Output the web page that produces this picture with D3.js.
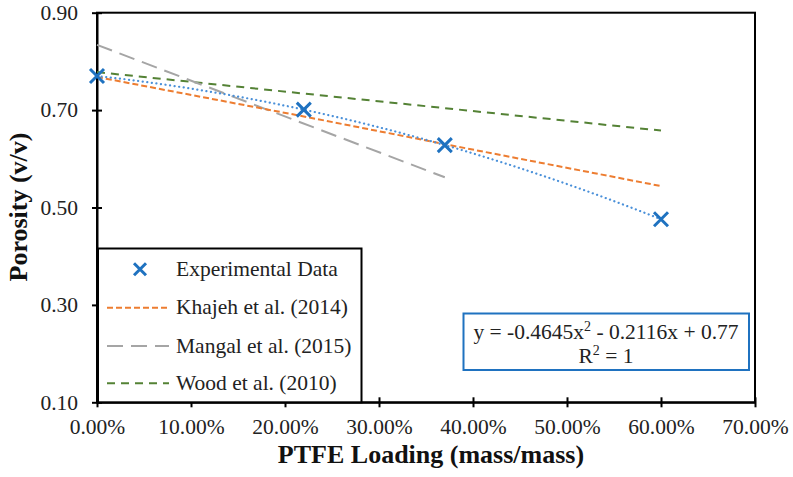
<!DOCTYPE html>
<html>
<head>
<meta charset="utf-8">
<script src="https://cdn.jsdelivr.net/npm/d3@7"></script>
<style>
  html, body { margin: 0; padding: 0; background: #fff; }
  svg { display: block; }
  svg text { font-family: "Liberation Serif", "Times New Roman", serif; }
</style>
</head>
<body>
<svg id="chart" width="793" height="477"></svg>
<script>
// PTFE loading (mass fraction) and measured porosity
const loading = [0, 0.22, 0.37, 0.60];
const porosity = [0.77, 0.701, 0.628, 0.476];

// Model predictions from literature, at their sampled loadings
const khajehX = [0, 0.22, 0.37, 0.60];
const khajehY = [0.768, 0.687, 0.630, 0.544];
const mangalX = [0, 0.37];
const mangalY = [0.834, 0.562];
const woodX = [0, 0.60];
const woodY = [0.778, 0.658];

// Polynomial trendline coefficients (a x^2 + b x + c), as printed in the label
const trendCoef = [-0.4645, -0.2116, 0.77];
const trendR2 = 1;

const xTicks = [0, 0.1, 0.2, 0.3, 0.4, 0.5, 0.6, 0.7];
const yTicks = [0.10, 0.30, 0.50, 0.70, 0.90];

const legendNames = ["Experimental Data", "Khajeh et al. (2014)", "Mangal et al. (2015)", "Wood et al. (2010)"];

const colors = {
  exp: "#1F72C0",
  trend: "#4A90D9",
  khajeh: "#ED7D31",
  mangal: "#A5A5A5",
  wood: "#548235"
};
const SERIF = "'Liberation Serif', 'Times New Roman', serif";

const svg = d3.select("#chart");
const x = d3.scaleLinear().domain([0, 0.7]).range([97, 755]);
const y = d3.scaleLinear().domain([0.1, 0.9]).range([402.3, 12.7]);

// frame
svg.append("rect")
  .attr("x", x(0)).attr("y", y(0.9))
  .attr("width", x(0.7) - x(0)).attr("height", y(0.1) - y(0.9))
  .attr("fill", "none").attr("stroke", "#000").attr("stroke-width", 2);

// axes with ticks crossing the axis line
const xAxis = svg.append("g").attr("transform", `translate(0,${y(0.1)})`)
  .call(d3.axisBottom(x).tickValues(xTicks).tickSize(5).tickSizeOuter(0)
    .tickFormat(d => (d * 100).toFixed(2) + "%"));
xAxis.attr("font-family", SERIF).attr("font-size", 21.5);
xAxis.select(".domain").attr("stroke-width", 2);
xAxis.selectAll(".tick line").attr("y1", -5).attr("stroke-width", 2);
xAxis.selectAll(".tick text").attr("fill", "#222").attr("y", 16);

const yAxis = svg.append("g").attr("transform", `translate(${x(0)},0)`)
  .call(d3.axisLeft(y).tickValues(yTicks).tickSize(5).tickSizeOuter(0)
    .tickFormat(d3.format(".2f")));
yAxis.attr("font-family", SERIF).attr("font-size", 21.5);
yAxis.select(".domain").attr("stroke-width", 2);
yAxis.selectAll(".tick line").attr("x1", 5).attr("stroke-width", 2);
yAxis.selectAll(".tick text").attr("fill", "#222").attr("x", -19);

// axis titles
svg.append("text")
  .attr("x", 431).attr("y", 463)
  .attr("text-anchor", "middle").attr("font-weight", "bold").attr("font-size", 26)
  .attr("font-family", SERIF).attr("fill", "#111")
  .text("PTFE Loading (mass/mass)");
svg.append("text")
  .attr("transform", "translate(27,207) rotate(-90)")
  .attr("text-anchor", "middle").attr("font-weight", "bold").attr("font-size", 26)
  .attr("font-family", SERIF).attr("fill", "#111")
  .text("Porosity (v/v)");

const line = d3.line().x(d => x(d[0])).y(d => y(d[1]));
const zip = (a, b) => a.map((v, i) => [v, b[i]]);

// literature models
svg.append("path").datum(zip(woodX, woodY)).attr("d", line)
  .attr("fill", "none").attr("stroke", colors.wood).attr("stroke-width", 2)
  .attr("stroke-dasharray", "8,6");
svg.append("path").datum(zip(mangalX, mangalY)).attr("d", line)
  .attr("fill", "none").attr("stroke", colors.mangal).attr("stroke-width", 2)
  .attr("stroke-dasharray", "16,8");
svg.append("path").datum(zip(khajehX, khajehY)).attr("d", line)
  .attr("fill", "none").attr("stroke", colors.khajeh).attr("stroke-width", 2)
  .attr("stroke-dasharray", "6,3");

// polynomial trendline across the measured range
const trendPts = d3.range(0, 0.6001, 0.01).map(t => [t, trendCoef[0] * t * t + trendCoef[1] * t + trendCoef[2]]);
svg.append("path").datum(trendPts).attr("d", line)
  .attr("fill", "none").attr("stroke", colors.trend).attr("stroke-width", 2.2)
  .attr("stroke-dasharray", "0.1,4.5").attr("stroke-linecap", "round");

// experimental markers
const cross = (g, cx, cy, r) => {
  g.append("path")
    .attr("d", `M${cx - r},${cy - r}L${cx + r},${cy + r}M${cx - r},${cy + r}L${cx + r},${cy - r}`)
    .attr("stroke", colors.exp).attr("stroke-width", 3).attr("fill", "none");
};
const marks = svg.append("g");
loading.forEach((v, i) => cross(marks, x(v), y(porosity[i]), 7));

// legend
const lg = svg.append("g");
lg.append("rect").attr("x", 98).attr("y", 248.5).attr("width", 263.5).attr("height", y(0.1) - 248.5)
  .attr("fill", "#fff").attr("stroke", "#000").attr("stroke-width", 2);
const rowY = [269.3, 307.7, 346, 383.3];
const styles = [null,
  { c: colors.khajeh, d: "6,3" },
  { c: colors.mangal, d: "16,8" },
  { c: colors.wood, d: "8,6" }];
legendNames.forEach((name, i) => {
  if (i === 0) {
    cross(lg, 140, rowY[i], 6);
  } else {
    lg.append("line").attr("x1", 107).attr("x2", 169).attr("y1", rowY[i]).attr("y2", rowY[i])
      .attr("stroke", styles[i].c).attr("stroke-width", 2).attr("stroke-dasharray", styles[i].d);
  }
  lg.append("text").attr("x", 176).attr("y", rowY[i] + 6.5).attr("font-size", 21.5)
    .attr("font-family", SERIF).attr("fill", "#222").text(name);
});

// trendline equation label
const eq = svg.append("g").attr("font-family", SERIF);
eq.append("rect").attr("x", 463.5).attr("y", 313.5).attr("width", 285.5).attr("height", 56.5)
  .attr("fill", "#fff").attr("stroke", "#1F72C0").attr("stroke-width", 2);
const t1 = eq.append("text").attr("x", 606).attr("y", 339).attr("text-anchor", "middle")
  .attr("font-size", 21.5).attr("fill", "#222");
t1.append("tspan").text(`y = ${trendCoef[0]}x`);
t1.append("tspan").attr("font-size", 14).attr("dy", -8).text("2");
t1.append("tspan").attr("dy", 8).text(` - ${Math.abs(trendCoef[1])}x + ${trendCoef[2]}`);
const t2 = eq.append("text").attr("x", 606).attr("y", 363).attr("text-anchor", "middle")
  .attr("font-size", 21.5).attr("fill", "#222");
t2.append("tspan").text("R");
t2.append("tspan").attr("font-size", 14).attr("dy", -8).text("2");
t2.append("tspan").attr("dy", 8).text(` = ${trendR2}`);
</script>
</body>
</html>
